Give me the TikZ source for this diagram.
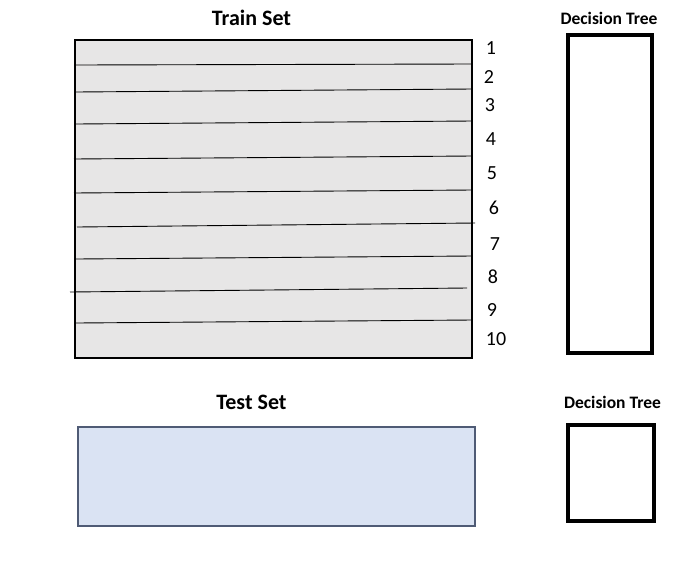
\documentclass[tikz,border=0pt]{standalone}
\usepackage{fontspec}
\setmainfont{Carlito}
\usetikzlibrary{positioning}
\definecolor{trainfill}{HTML}{E7E6E6}
\definecolor{testfill}{HTML}{DAE3F3}
\definecolor{testdraw}{HTML}{4F5B75}
\tikzset{
  title/.style={font=\bfseries\fontsize{22}{24}\selectfont},
  treetitle/.style={font=\bfseries\fontsize{17.5}{20}\selectfont},
  rownum/.style={font=\fontsize{20}{22}\selectfont},
  treebox/.style={draw,line width=3.2pt,inner sep=0pt},
}
\begin{document}
\begin{tikzpicture}[x=1pt,y=-1pt]
\useasboundingbox (0,0) rectangle (695,563);
% boxes
\node[draw,line width=1.8pt,fill=trainfill,inner sep=0pt,minimum width=397,minimum height=318] (trainbox) at (273.8,199) {};
\node[draw=testdraw,line width=1.8pt,fill=testfill,inner sep=0pt,minimum width=397,minimum height=99] (testbox) at (276.5,476.5) {};
\node[treebox,minimum width=84,minimum height=318] (tree1) at (610,194) {};
\node[treebox,minimum width=86,minimum height=96] (tree2) at (611,473) {};
% titles
\node[title] (train) at (251.5,18) {Train Set};
\node[title] (test) at (251.5,402) {Test Set};
\node[treetitle] (treelabel1) at (609,18) {Decision Tree};
\node[treetitle] (treelabel2) at (612.5,402) {Decision Tree};
% rows
\foreach \xa/\ya/\xb/\yb in {76/65/472/64, 76/92/472/89, 76/124/472/121,
  74/159/472/156, 74/193/472/190, 77/227/475/223, 76/259/472/256,
  70/292/467/288, 76/323/472/320}
  \draw[line width=0.9pt] (\xa,\ya) -- (\xb,\yb);
% row numbers
\foreach \n/\x/\y in {1/491/48, 2/489/77, 3/490/105, 4/491/139, 5/492/173,
  6/494/208, 7/495/244, 8/493/277, 9/492/310, 10/496/339}
  \node[rownum] (row\n) at (\x,\y) {\n};
\end{tikzpicture}
\end{document}
